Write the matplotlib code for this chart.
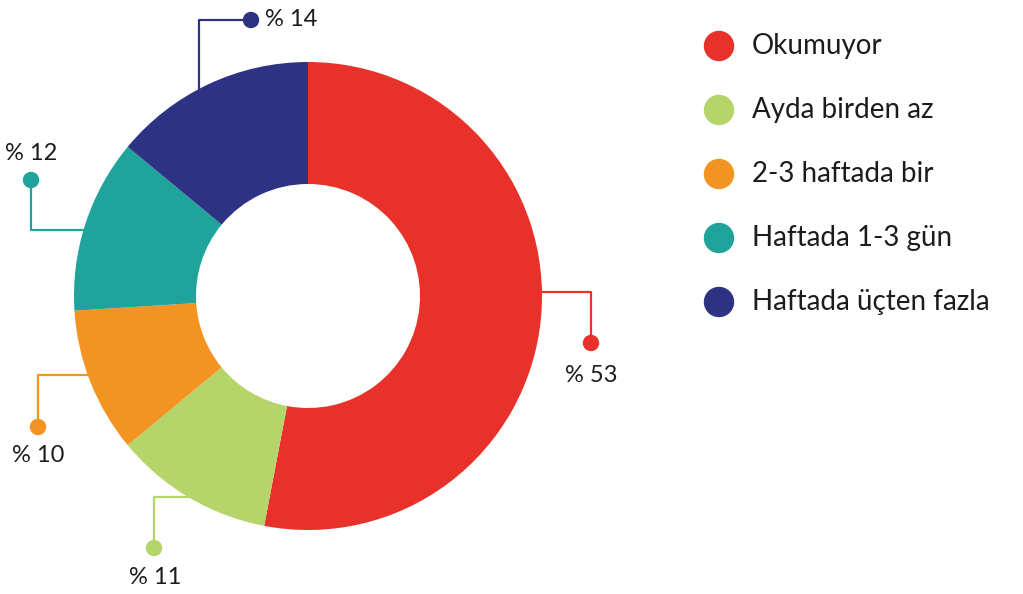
import matplotlib
matplotlib.use("Agg")
import matplotlib.pyplot as plt
from matplotlib.patches import Circle
import numpy as np

categories = ["Okumuyor", "Ayda birden az", "2-3 haftada bir", "Haftada 1-3 gün", "Haftada üçten fazla"]
values = [53, 11, 10, 12, 14]
labels = ["% 53", "% 11", "% 10", "% 12", "% 14"]
colors = ["#E8312A", "#B5D56A", "#F39322", "#1FA39A", "#2E3282"]

W, H = 1023, 594
fig = plt.figure(figsize=(W / 100, H / 100), dpi=100)
ax = fig.add_axes([0, 0, 1, 1])

cx, cy, R, r_in = 308, 296, 234, 112
ax.pie(values, colors=colors, startangle=-90, counterclock=True,
       center=(cx, cy), radius=R,
       wedgeprops=dict(width=R - r_in, edgecolor="none", linewidth=0))
ax.set_xlim(0, W)
ax.set_ylim(H, 0)
ax.set_aspect("equal")
ax.axis("off")

FONT = "Lato"
TXT = "#1E1B1C"

def edge_x(y, side):
    return cx + side * np.sqrt(R ** 2 - (y - cy) ** 2)

def edge_y(x, side):
    return cy + side * np.sqrt(R ** 2 - (x - cx) ** 2)

# leader layouts: (path points, dot, label position, ha)
leaders = [
    ([(edge_x(292, 1) - 3, 292), (591, 292), (591, 343)], (591, 343), (591, 376), "center"),
    ([(edge_x(497, -1) + 3, 497), (154, 497), (154, 548)], (154, 548), (155, 577), "center"),
    ([(edge_x(375, -1) + 3, 375), (38, 375), (38, 427)], (38, 427), (38, 455), "center"),
    ([(edge_x(230, -1) + 3, 230), (31, 230), (31, 180)], (31, 180), (31, 153), "center"),
    ([(199, edge_y(199, -1) + 3), (199, 20), (251, 20)], (251, 20), (265, 19), "left"),
]

for (pts, dot, lpos, ha), col, lab in zip(leaders, colors, labels):
    xs, ys = zip(*pts)
    ax.plot(xs, ys, color=col, lw=1.6, solid_capstyle="butt", zorder=3)
    ax.add_patch(Circle(dot, 7.5, color=col, zorder=4))
    ax.text(lpos[0], lpos[1], lab, ha=ha, va="center", fontsize=17,
            family=FONT, color=TXT)

# legend
leg_y = [46, 110, 174, 238, 302]
for y, col, cat in zip(leg_y, colors, categories):
    ax.add_patch(Circle((719, y), 14.5, color=col, zorder=4))
    ax.text(752, y, cat, ha="left", va="center", fontsize=20,
            family=FONT, color=TXT)

fig.savefig("out.png", dpi=100)
